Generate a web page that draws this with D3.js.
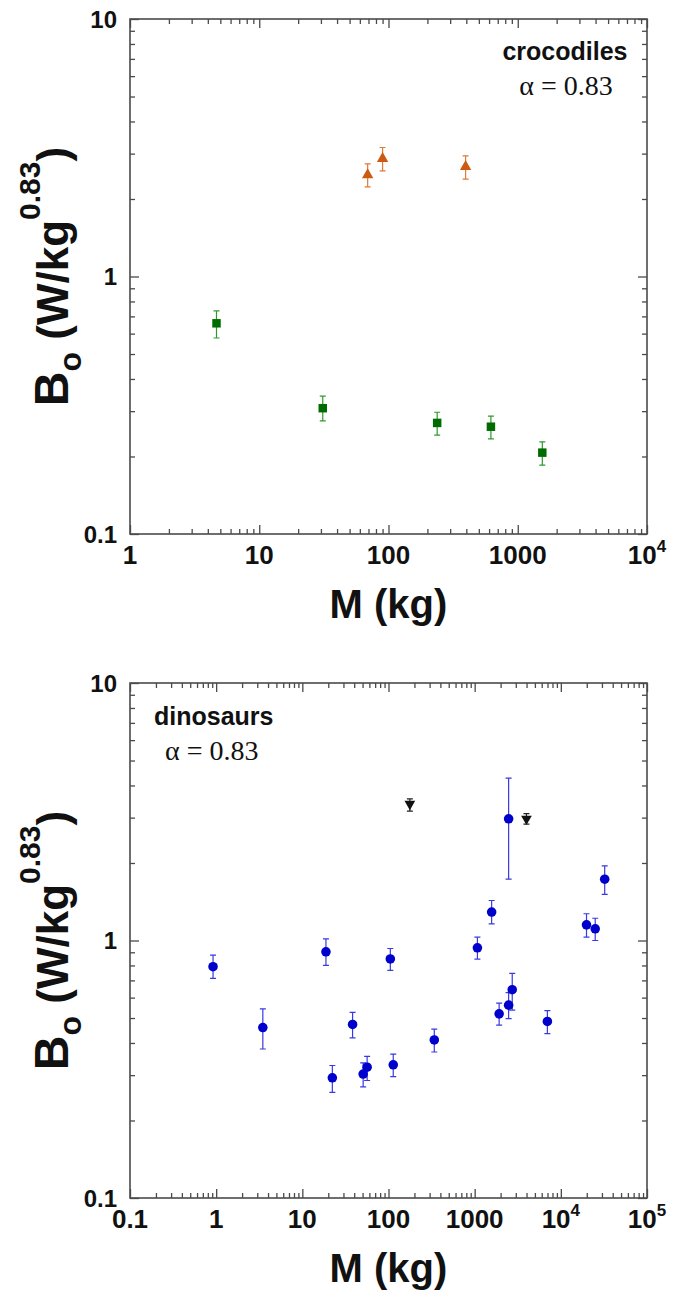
<!DOCTYPE html>
<html>
<head>
<meta charset="utf-8">
<script src="https://cdn.jsdelivr.net/npm/d3@7"></script>
<style>
  body { margin: 0; background: #fff; }
  text { font-family: "Liberation Sans", Arial, sans-serif; }
</style>
</head>
<body>
<div id="chart"></div>
<script>
// crocodiles, green squares
var crocGreenM = [4.67, 31, 238, 620, 1549];
var crocGreenB = [0.658, 0.308, 0.270, 0.261, 0.207];
var crocGreenLo = [0.577, 0.275, 0.242, 0.234, 0.185];
var crocGreenHi = [0.736, 0.343, 0.297, 0.287, 0.228];

// crocodiles, orange triangles
var crocOrangeM = [69, 90, 395];
var crocOrangeB = [2.48, 2.87, 2.67];
var crocOrangeLo = [2.23, 2.57, 2.39];
var crocOrangeHi = [2.74, 3.17, 2.94];

// dinosaurs, blue circles
var dinoBlueM = [0.92, 3.48, 18.8, 22.3, 38.3, 50.8, 56.5, 105, 113.5, 340,
  1076, 1574, 1923, 2478, 2478, 2729, 6980, 19860, 25060, 32300];
var dinoBlueB = [0.791, 0.459, 0.904, 0.293, 0.472, 0.303, 0.322, 0.848, 0.329, 0.411,
  0.937, 1.29, 0.519, 2.97, 0.561, 0.644, 0.485, 1.15, 1.11, 1.73];
var dinoBlueLo = [0.713, 0.379, 0.80, 0.257, 0.419, 0.270, 0.286, 0.766, 0.296, 0.369,
  0.847, 1.16, 0.469, 1.73, 0.497, 0.537, 0.435, 1.03, 1.00, 1.51];
var dinoBlueHi = [0.877, 0.543, 1.015, 0.327, 0.526, 0.335, 0.355, 0.931, 0.362, 0.453,
  1.03, 1.43, 0.571, 4.27, 0.627, 0.745, 0.534, 1.27, 1.22, 1.95];

// dinosaurs, black inverted triangles
var dinoBlackM = [177, 3990];
var dinoBlackB = [3.39, 2.97];
var dinoBlackLo = [3.18, 2.83];
var dinoBlackHi = [3.55, 3.11];

// tick labels
var yTicks = [0.1, 1, 10];
var yTickLabels = ["0.1", "1", "10"];
var xTicksTop = [1, 10, 100, 1000, 10000];
var xTickLabelsTop = ["1", "10", "100", "1000", "10^4"];
var xTicksBottom = [0.1, 1, 10, 100, 1000, 10000, 100000];
var xTickLabelsBottom = ["0.1", "1", "10", "100", "1000", "10^4", "10^5"];

var svgWidth = 680;
var svgHeight = 1292;
var boxColor = "#4a4a4a";

var svg = d3.select("#chart")
  .append("svg")
  .attr("width", svgWidth)
  .attr("height", svgHeight);

function zip(m, b, lo, hi) {
  return m.map((d, i) => ({ m: d, b: b[i], lo: lo[i], hi: hi[i] }));
}

// minor tick values 2..9 in each decade of a domain
function minorTicks(domain) {
  var out = [];
  var a = Math.round(Math.log10(domain[0]));
  var b = Math.round(Math.log10(domain[1]));
  for (var e = a; e < b; e++) {
    for (var k = 2; k <= 9; k++) out.push(k * Math.pow(10, e));
  }
  return out;
}

function drawPanel(p) {
  var g = svg.append("g");
  var x = d3.scaleLog().domain(p.xDomain).range([p.left, p.right]);
  var y = d3.scaleLog().domain([0.1, 10]).range([p.bottom, p.top]);

  var xMinor = minorTicks(p.xDomain);
  var yMinor = minorTicks([0.1, 10]);

  function styleAxis(sel) {
    sel.select(".domain").remove();
    sel.selectAll("line").attr("stroke", boxColor).attr("stroke-width", 1.3);
    sel.selectAll("text").remove();
  }

  // bottom + top axes (ticks point inward)
  g.append("g").attr("transform", `translate(0,${p.bottom})`)
    .call(d3.axisBottom(x).tickValues(p.xTicks).tickSize(-9).tickFormat("")).call(styleAxis);
  g.append("g").attr("transform", `translate(0,${p.bottom})`)
    .call(d3.axisBottom(x).tickValues(xMinor).tickSize(-5).tickFormat("")).call(styleAxis);
  g.append("g").attr("transform", `translate(0,${p.top})`)
    .call(d3.axisTop(x).tickValues(p.xTicks).tickSize(-9).tickFormat("")).call(styleAxis);
  g.append("g").attr("transform", `translate(0,${p.top})`)
    .call(d3.axisTop(x).tickValues(xMinor).tickSize(-5).tickFormat("")).call(styleAxis);

  // left + right axes
  g.append("g").attr("transform", `translate(${p.left},0)`)
    .call(d3.axisLeft(y).tickValues(yTicks).tickSize(-9).tickFormat("")).call(styleAxis);
  g.append("g").attr("transform", `translate(${p.left},0)`)
    .call(d3.axisLeft(y).tickValues(yMinor).tickSize(-5).tickFormat("")).call(styleAxis);
  g.append("g").attr("transform", `translate(${p.right},0)`)
    .call(d3.axisRight(y).tickValues(yTicks).tickSize(-9).tickFormat("")).call(styleAxis);
  g.append("g").attr("transform", `translate(${p.right},0)`)
    .call(d3.axisRight(y).tickValues(yMinor).tickSize(-5).tickFormat("")).call(styleAxis);

  // frame
  g.append("rect")
    .attr("x", p.left).attr("y", p.top)
    .attr("width", p.right - p.left).attr("height", p.bottom - p.top)
    .attr("fill", "none").attr("stroke", boxColor).attr("stroke-width", 1.6);

  // x tick labels
  p.xTicks.forEach(function(v, i) {
    var lab = p.xLabels[i];
    var t = g.append("text")
      .attr("x", x(v)).attr("y", p.bottom + 30)
      .attr("text-anchor", "middle")
      .attr("font-size", "26px").attr("font-weight", "bold")
      .attr("fill", "#111");
    if (lab.indexOf("^") > 0) {
      var parts = lab.split("^");
      t.append("tspan").text(parts[0]);
      t.append("tspan").attr("dy", -12).attr("font-size", "17px").text(parts[1]);
    } else {
      t.text(lab);
    }
  });

  // y tick labels
  yTicks.forEach(function(v, i) {
    g.append("text")
      .attr("x", p.left - 13).attr("y", y(v))
      .attr("dy", "0.36em")
      .attr("text-anchor", "end")
      .attr("font-size", "24px").attr("font-weight", "bold")
      .attr("fill", "#111")
      .text(yTickLabels[i]);
  });

  // axis titles
  g.append("text")
    .attr("x", (p.left + p.right) / 2).attr("y", p.bottom + 84)
    .attr("text-anchor", "middle")
    .attr("font-size", "40px").attr("font-weight", "bold")
    .attr("fill", "#111")
    .text("M (kg)");

  var yt = g.append("text")
    .attr("transform", `translate(68,${(p.top + p.bottom) / 2}) rotate(-90)`)
    .attr("text-anchor", "middle")
    .attr("font-size", "44px").attr("font-weight", "bold")
    .attr("fill", "#111");
  yt.append("tspan").attr("font-size", "48px").text("B");
  yt.append("tspan").attr("font-size", "32px").attr("dy", 13).text("o");
  yt.append("tspan").attr("dy", -13).text(" (W/kg");
  yt.append("tspan").attr("font-size", "30px").attr("dy", -28).text("0.83");
  yt.append("tspan").attr("dy", 28).text(")");

  // annotations
  g.append("text")
    .attr("x", p.nameX).attr("y", p.nameY)
    .attr("text-anchor", p.anchor)
    .attr("font-size", "25px").attr("font-weight", "bold")
    .attr("fill", "#111")
    .text(p.name);
  g.append("text")
    .attr("x", p.alphaX).attr("y", p.nameY + 35)
    .attr("text-anchor", p.anchor)
    .attr("font-size", "28px")
    .attr("fill", "#111")
    .style("font-family", "'Liberation Serif', 'Times New Roman', serif")
    .text("\u03b1 = 0.83");

  // series
  p.series.forEach(function(s) {
    var sg = g.append("g");
    sg.selectAll(".err")
      .data(s.data).enter()
      .append("path")
      .attr("d", d => {
        var cx = x(d.m), y0 = y(d.lo), y1 = y(d.hi);
        return `M${cx - 3},${y1}H${cx + 3}M${cx},${y1}V${y0}M${cx - 3},${y0}H${cx + 3}`;
      })
      .attr("fill", "none")
      .attr("stroke", s.errColor)
      .attr("stroke-width", 1.2);

    sg.selectAll(".pt")
      .data(s.data).enter()
      .append("path")
      .attr("d", d3.symbol().type(s.symbol).size(s.size))
      .attr("transform", d => `translate(${x(d.m)},${y(d.b)})` + (s.flip ? " rotate(180)" : ""))
      .attr("fill", s.color);
  });
}

drawPanel({
  left: 130, right: 647, top: 19, bottom: 534,
  xDomain: [1, 10000],
  xTicks: xTicksTop, xLabels: xTickLabelsTop,
  name: "crocodiles", anchor: "middle", nameX: 565, alphaX: 566, nameY: 60,
  series: [
    { data: zip(crocGreenM, crocGreenB, crocGreenLo, crocGreenHi),
      symbol: d3.symbolSquare, size: 72, color: "#006b00", errColor: "#2e9a2e" },
    { data: zip(crocOrangeM, crocOrangeB, crocOrangeLo, crocOrangeHi),
      symbol: d3.symbolTriangle, size: 56, color: "#cc5a10", errColor: "#de7a3a" }
  ]
});

drawPanel({
  left: 130, right: 647, top: 683, bottom: 1198,
  xDomain: [0.1, 100000],
  xTicks: xTicksBottom, xLabels: xTickLabelsBottom,
  name: "dinosaurs", anchor: "start", nameX: 154, alphaX: 165, nameY: 725,
  series: [
    { data: zip(dinoBlueM, dinoBlueB, dinoBlueLo, dinoBlueHi),
      symbol: d3.symbolCircle, size: 72, color: "#0000cc", errColor: "#3a3ae0" },
    { data: zip(dinoBlackM, dinoBlackB, dinoBlackLo, dinoBlackHi),
      symbol: d3.symbolTriangle, size: 50, color: "#111", errColor: "#222", flip: true }
  ]
});
</script>
</body>
</html>
